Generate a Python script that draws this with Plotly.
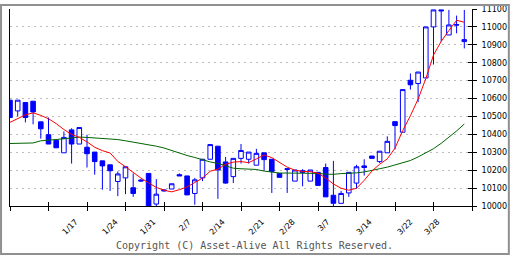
import plotly.graph_objects as go

# ---- data ----
opens = [10591, 10531, 10578, 10585, 10470, 10398, 10367, 10297, 10425, 10346,
         10328, 10301, 10252, 10230, 10137, 10157, 10102, 10145, 10182, 10011,
         10090, 10095, 10175, 10168, 10070, 10157, 10261, 10334, 10246, 10164,
         10266, 10261, 10228, 10297, 10261, 10182, 10204, 10139, 10197, 10139,
         10188, 10215, 10060, 10015, 10073, 10128, 10224, 10279, 10248, 10297,
         10471, 10412, 10702, 10684, 10715, 11000, 11095, 10955, 11010, 10918]
highs = [10591, 10591, 10578, 10585, 10470, 10494, 10367, 10416, 10434, 10438,
         10398, 10301, 10252, 10230, 10193, 10219, 10182, 10150, 10182, 10150,
         10095, 10124, 10182, 10168, 10157, 10261, 10343, 10334, 10274, 10266,
         10346, 10301, 10319, 10297, 10261, 10182, 10208, 10201, 10206, 10201,
         10188, 10237, 10252, 10084, 10188, 10230, 10261, 10279, 10306, 10389,
         10471, 10650, 10740, 10748, 11000, 11095, 11095, 11095, 11063, 11095]
lows = [10494, 10500, 10467, 10456, 10376, 10346, 10325, 10297, 10237, 10346,
        10215, 10175, 10091, 10084, 10055, 10066, 10051, 10135, 9970, 10000,
        10080, 10095, 10168, 10062, 10007, 10139, 10261, 10040, 10124, 10128,
        10237, 10237, 10228, 10197, 10073, 10160, 10073, 10139, 10110, 10139,
        10115, 10051, 10000, 10015, 10051, 10097, 10170, 10266, 10240, 10297,
        10316, 10412, 10650, 10580, 10715, 10790, 10918, 10955, 10964, 10880]
closes = [10494, 10591, 10494, 10525, 10431, 10346, 10325, 10383, 10346, 10438,
          10292, 10248, 10224, 10197, 10179, 10219, 10070, 10140, 9980, 10066,
          10085, 10124, 10168, 10062, 10146, 10261, 10343, 10201, 10128, 10266,
          10310, 10301, 10294, 10259, 10193, 10160, 10208, 10201, 10188, 10201,
          10115, 10051, 10015, 10070, 10188, 10219, 10215, 10266, 10306, 10361,
          10449, 10650, 10677, 10748, 11000, 11095, 11090, 11011, 11012, 10929]
ma_short = [10467, 10487, 10509, 10520, 10506, 10487, 10460, 10427, 10400, 10383,
            10358, 10328, 10309, 10296, 10249, 10219, 10186, 10156, 10129, 10104,
            10088, 10079, 10091, 10107, 10131, 10156, 10194, 10206, 10233, 10245,
            10248, 10242, 10263, 10285, 10270, 10241, 10217, 10200, 10193, 10192,
            10183, 10156, 10123, 10099, 10088, 10099, 10143, 10195, 10233, 10263,
            10323, 10421, 10504, 10597, 10711, 10843, 10919, 10980, 11037, 11026]
ma_long = [10349, 10349, 10350, 10352, 10364, 10367, 10368, 10375, 10380, 10385,
           10383, 10380, 10378, 10375, 10371, 10364, 10357, 10350, 10342, 10334,
           10324, 10309, 10296, 10282, 10271, 10257, 10246, 10238, 10224, 10211,
           10208, 10206, 10204, 10195, 10190, 10184, 10184, 10184, 10184, 10183,
           10182, 10178, 10177, 10181, 10182, 10185, 10190, 10197, 10208, 10217,
           10228, 10239, 10254, 10274, 10296, 10320, 10350, 10383, 10419, 10458]
tick_labels = ["1/17", "1/24", "1/31", "2/7", "2/14", "2/21", "2/28",
               "3/7", "3/14", "3/22", "3/28"]
tick_label_pos = [8.5, 13.7, 18.6, 23.2, 27.6, 32.7, 36.7, 41.2, 46.7, 52.0, 55.5]
y_ticks = list(range(10000, 11101, 100))
week_ticks = list(range(0, 61, 5))
copyright_text = "Copyright (C) Asset-Alive All Rights Reserved."

idx = list(range(len(opens)))
BLUE = "#0000ff"

fig = go.Figure()
fig.add_trace(go.Candlestick(
    x=idx, open=opens, high=highs, low=lows, close=closes,
    increasing=dict(line=dict(color=BLUE, width=1), fillcolor="#ffffff"),
    decreasing=dict(line=dict(color=BLUE, width=1), fillcolor=BLUE),
    whiskerwidth=0, hoverinfo="skip", showlegend=False))
fig.add_trace(go.Scatter(x=idx, y=ma_long, mode="lines",
                         line=dict(color="#006400", width=1), showlegend=False))
fig.add_trace(go.Scatter(x=idx, y=ma_short, mode="lines",
                         line=dict(color="#ff0000", width=1), showlegend=False))
# empty traces so the tick-only overlay axes are drawn
fig.add_trace(go.Scatter(x=[], y=[], xaxis="x2", yaxis="y2", showlegend=False))
fig.add_trace(go.Scatter(x=[], y=[], xaxis="x3", yaxis="y3", showlegend=False))

W, H = 512, 256
L, R, T, B = 10, 38, 5, 50
pw, ph = W - L - R, H - T - B

def px(xp):
    return (xp - L) / pw

def py(yp):
    return (H - B - yp) / ph

font = "DejaVu Sans"
fig.update_layout(
    width=W, height=H, margin=dict(l=L, r=R, t=T, b=B, pad=0),
    paper_bgcolor="white", plot_bgcolor="white",
    boxgap=0.15, boxgroupgap=0.3,
    xaxis=dict(range=[0, 60], showline=True, linecolor="black", linewidth=1,
               tickmode="array", tickvals=tick_label_pos, ticktext=tick_labels,
               ticks="", tickangle=-45, ticklabelstandoff=7,
               tickfont=dict(family=font, size=8, color="black"),
               showgrid=False, zeroline=False, rangeslider=dict(visible=False),
               fixedrange=True),
    xaxis2=dict(range=[0, 60], overlaying="x", anchor="y2", side="bottom",
                tickmode="array", tickvals=week_ticks, ticks="outside", ticklen=4,
                tickcolor="black", tickwidth=1, showticklabels=False,
                showgrid=False, zeroline=False, showline=False),
    xaxis3=dict(range=[0, 60], overlaying="x", anchor="y3", side="bottom",
                tickmode="array", tickvals=week_ticks, ticks="inside", ticklen=4,
                tickcolor="black", tickwidth=1, showticklabels=False,
                showgrid=False, zeroline=False, showline=False),
    yaxis=dict(range=[10000, 11100], side="right", showline=True, mirror=True,
               linecolor="black", linewidth=1, tickmode="array", tickvals=y_ticks,
               ticktext=[str(v) for v in y_ticks], ticklabelstandoff=3,
               ticks="outside", ticklen=4, tickcolor="black",
               tickfont=dict(family=font, size=8, color="black"),
               showgrid=True, gridcolor="#bdbdbd", griddash="2px,4px", gridwidth=1,
               zeroline=False, fixedrange=True),
    yaxis2=dict(range=[10000, 11100], overlaying="y", side="right", anchor="x2",
                tickmode="array", tickvals=y_ticks, ticks="inside", ticklen=4,
                tickcolor="black", showticklabels=False, showgrid=False,
                zeroline=False, showline=False),
    yaxis3=dict(range=[10000, 11100], overlaying="y", side="right", anchor="x3",
                showticklabels=False, showgrid=False, zeroline=False, showline=False,
                ticks=""),
    annotations=[dict(text=copyright_text, xref="paper", yref="paper",
                      x=px(255.5), y=py(246), xanchor="center", yanchor="middle",
                      showarrow=False,
                      font=dict(family="DejaVu Sans Mono", size=10, color="#555555"))],
    shapes=[dict(type="rect", xref="paper", yref="paper",
                 x0=px(1), x1=px(511), y0=py(255), y1=py(1),
                 line=dict(color="#909090", width=2), fillcolor="rgba(0,0,0,0)",
                 layer="above")],
)

fig.write_html("out.html")
